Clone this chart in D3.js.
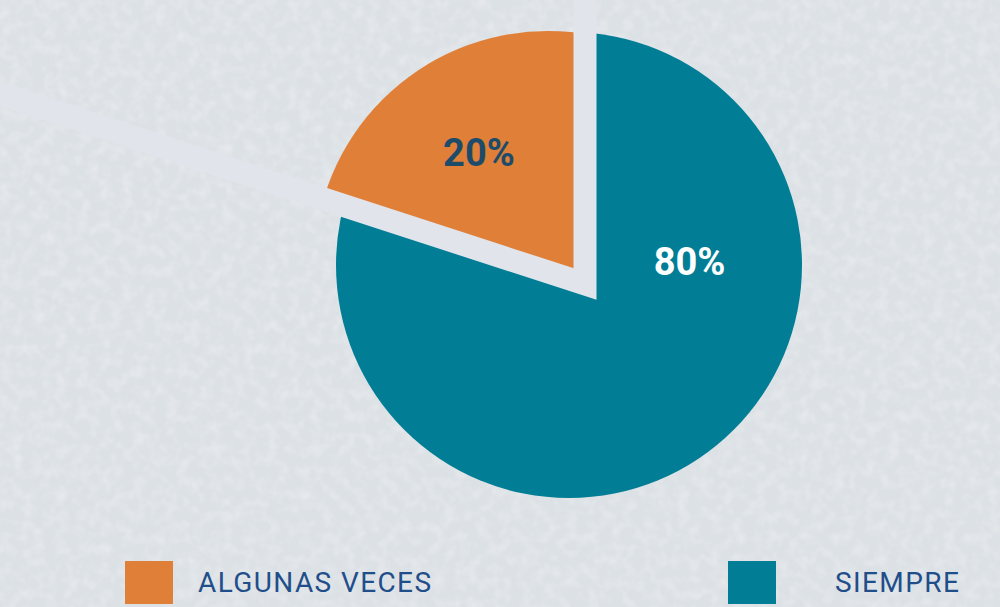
<!DOCTYPE html>
<html>
<head>
<meta charset="utf-8">
<script src="https://cdn.jsdelivr.net/npm/d3@7"></script>
<style>
  html, body { margin: 0; padding: 0; background: #dee2e6; }
  svg { display: block; }
</style>
</head>
<body>
<svg id="chart"></svg>
<script>
// data
const categories = ["ALGUNAS VECES", "SIEMPRE"];
const values = [20, 80];
const labels = ["20%", "80%"];
const colors = ["#e07f38", "#017e95"];
const labelColors = ["#1d4c6a", "#ffffff"];

const width = 1000;
const height = 607;

const svg = d3.select("#chart").attr("width", width).attr("height", height);
const defs = svg.append("defs");

// grainy background texture
const grain = defs.append("filter").attr("id", "grain").attr("x", 0).attr("y", 0).attr("width", "100%").attr("height", "100%");
grain.append("feTurbulence").attr("type", "fractalNoise").attr("baseFrequency", 0.09).attr("numOctaves", 2).attr("seed", 3);
grain.append("feColorMatrix").attr("type", "matrix")
  .attr("values", "0 0 0 0 1  0 0 0 0 1  0 0 0 0 1  0 0 0 1.1 -0.45");

svg.append("rect").attr("width", width).attr("height", height).attr("fill", "#dce1e5");
svg.append("rect").attr("width", width).attr("height", height).attr("filter", "url(#grain)").attr("opacity", 0.55);

// pie geometry: the wedges meet at P, each slice is cut by its own circle
const P = [585, 284];
const circles = [
  { cx: 548, cy: 265, r: 234 }, // orange slice, pulled left
  { cx: 569, cy: 265, r: 233 }  // teal slice
];

const pie = d3.pie().sort(null).value(d => d)
  .startAngle(-2 * Math.PI * 0.2)
  .endAngle(2 * Math.PI * 0.8);
const arcs = pie(values);

const arc = d3.arc().innerRadius(0).outerRadius(420);

circles.forEach((c, i) => {
  defs.append("clipPath").attr("id", "clip" + i)
    .append("circle").attr("cx", c.cx).attr("cy", c.cy).attr("r", c.r);
});

// draw teal first, orange on top
[1, 0].forEach(i => {
  svg.append("g")
    .attr("clip-path", `url(#clip${i})`)
    .append("path")
    .attr("transform", `translate(${P[0]},${P[1]})`)
    .attr("d", arc(arcs[i]))
    .attr("fill", colors[i]);
});

// light gap band running along the slice borders out to the page edge
const borderA = d3.pointRadial(arcs[1].startAngle, 700);
const borderB = d3.pointRadial(arcs[0].startAngle, 900);
svg.append("path")
  .attr("d", d3.line()([
    [P[0] + borderA[0], P[1] + borderA[1]],
    P,
    [P[0] + borderB[0], P[1] + borderB[1]]
  ]))
  .attr("fill", "none")
  .attr("stroke", "#e2e4eb")
  .attr("stroke-width", 23)
  .attr("stroke-linejoin", "miter");

// slice labels
const labelAt = [0.46, 0.27];
const labelR = [169, 107];
svg.append("g")
  .selectAll("text")
  .data(arcs)
  .join("text")
  .attr("transform", (d, i) => {
    const a = d.startAngle + labelAt[i] * (d.endAngle - d.startAngle);
    const p = d3.pointRadial(a, labelR[i]);
    return `translate(${P[0] + p[0]},${P[1] + p[1]})`;
  })
  .attr("text-anchor", "middle")
  .attr("dy", "0.36em")
  .attr("font-family", "Roboto, 'DejaVu Sans', sans-serif")
  .attr("font-weight", 700)
  .attr("font-size", 38)
  .attr("fill", (d, i) => labelColors[i])
  .text((d, i) => labels[i]);

// legend
const legendX = d3.scaleOrdinal().domain(categories).range([125, 728]);
const textGap = d3.scaleOrdinal().domain(categories).range([73, 107]);
const legend = svg.append("g")
  .selectAll("g")
  .data(categories)
  .join("g")
  .attr("transform", d => `translate(${legendX(d)},561)`);

legend.append("rect")
  .attr("width", 48)
  .attr("height", 43)
  .attr("fill", (d, i) => colors[i]);

legend.append("text")
  .attr("x", d => textGap(d))
  .attr("y", 31)
  .attr("font-family", "Roboto, 'DejaVu Sans', sans-serif")
  .attr("font-size", 28)
  .attr("letter-spacing", 1.4)
  .attr("fill", "#1f4e8a")
  .text(d => d);
</script>
</body>
</html>
